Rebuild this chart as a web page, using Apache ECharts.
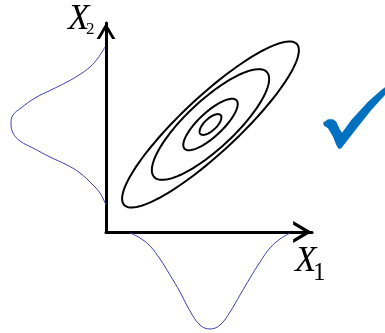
<!DOCTYPE html>
<html style="height: 100%">
<head>
    <meta charset="utf-8">
</head>
<body style="height: 100%; margin: 0; background: #fff">
<div id="container" style="width: 385px;height: 333px"></div>
<script src="https://cdn.jsdelivr.net/npm/echarts@6/dist/echarts.min.js"></script>
<script type="text/javascript">
    // units: 1 unit = 1 px, origin at the axes corner
    var x1Pos = [24, 34, 44, 54, 64, 74, 84, 94, 104, 114, 124, 134, 144, 154, 164, 174, 184];
    var x1Dens = [1, 6, 14, 27, 43, 60, 79, 93, 97, 93, 80, 63, 46, 30, 16, 7, 1];

    var x2Pos = [185, 174, 165, 157, 150, 142, 134, 124, 117, 109, 99, 91, 84, 75, 67, 59, 47, 39, 27];
    var x2Dens = [1, 8, 16, 27, 39, 55, 71, 85, 93, 95, 93, 86, 73, 56, 39, 26, 13, 6, 0];

    var ellipseCenter = [104.5, 107.5];
    var ringMajor = [118, 77, 35.5, 13.8];
    var ringMinor = [28, 24, 12, 6];
    var ringAngle = 43;

    var bottomData = x1Pos.map(function (x, i) { return [x, -x1Dens[i]]; });
    var leftData = x2Pos.map(function (y, i) { return [-x2Dens[i], y]; });
    var ringData = ringMajor.map(function (a, i) {
        return [ellipseCenter[0], ellipseCenter[1], a, ringMinor[i], ringAngle];
    });

    var chevron = 'path://M10,0 L20,17 L16.5,17 L10,5.9 L3.5,17 L0,17 Z';
    var hidden = {show: false};

    var dom = document.getElementById("container");
    var myChart = echarts.init(dom, null, {renderer: 'canvas'});

    function renderRing(params, api) {
        var cx = api.value(0), cy = api.value(1);
        var a = api.value(2), b = api.value(3);
        var th = api.value(4) * Math.PI / 180;
        var pts = [];
        for (var k = 0; k < 120; k++) {
            var t = k / 120 * Math.PI * 2;
            var px = cx + a * Math.cos(th) * Math.cos(t) - b * Math.sin(th) * Math.sin(t);
            var py = cy + a * Math.sin(th) * Math.cos(t) + b * Math.cos(th) * Math.sin(t);
            pts.push(api.coord([px, py]));
        }
        return {
            type: 'polygon',
            shape: {points: pts},
            style: {fill: 'none', stroke: '#000', lineWidth: 2}
        };
    }

    var option = {
        animation: false,
        grid: [
            {left: 106, top: 23, width: 206, height: 209},
            // same scale, widened to the left for the X2 marginal
            {left: 0, top: 23, width: 312, height: 209}
        ],
        xAxis: [{
            type: 'value', min: 0, max: 206,
            splitLine: hidden, axisTick: hidden, axisLabel: hidden,
            axisLine: {
                onZero: false,
                lineStyle: {color: '#000', width: 3},
                symbol: ['none', chevron],
                symbolSize: [22, 19],
                symbolOffset: [0, -9.5]
            }
        }, {
            type: 'value', gridIndex: 1, min: -106, max: 206, show: false
        }],
        yAxis: [{
            type: 'value', min: 0, max: 209,
            splitLine: hidden, axisTick: hidden, axisLabel: hidden,
            axisLine: {
                onZero: false,
                lineStyle: {color: '#000', width: 3},
                symbol: ['none', chevron],
                symbolSize: [21, 16],
                symbolOffset: [0, -8]
            }
        }, {
            type: 'value', gridIndex: 1, min: 0, max: 209, show: false
        }],
        graphic: [
            {type: 'text', x: 68, y: 20, style: {text: 'X', font: 'italic 35px "Liberation Serif"', fill: '#000', verticalAlign: 'middle'}},
            {type: 'text', x: 86, y: 30, style: {text: '2', font: '17px "Liberation Serif"', fill: '#000', verticalAlign: 'middle'}},
            {type: 'text', x: 295, y: 261.5, style: {text: 'X', font: 'italic 35px "Liberation Serif"', fill: '#000', verticalAlign: 'middle'}},
            {type: 'text', x: 313, y: 273.5, style: {text: '1', font: '25px "Liberation Serif"', fill: '#000', verticalAlign: 'middle'}},
            {
                type: 'polygon',
                shape: {points: [[323, 122.7], [328, 119.3], [333, 119.3], [336.3, 121.7], [339.7, 129.3],
                    [342, 132.7], [351.3, 120], [368, 101.7], [381.3, 90], [392, 82], [392, 91],
                    [385, 95], [371.3, 110], [358, 126.7], [346.3, 141.7], [341.3, 148.3], [338.7, 149],
                    [336.3, 145], [333, 136.7], [328, 128.3], [324, 125.7]]},
                style: {fill: '#0070C0'}
            }
        ],
        series: [
            {
                type: 'custom',
                renderItem: renderRing,
                data: ringData,
                clip: false
            },
            {
                type: 'line', data: bottomData, smooth: 0.4, showSymbol: false, clip: false,
                lineStyle: {color: '#3f3fae', width: 1}
            },
            {
                type: 'line', xAxisIndex: 1, yAxisIndex: 1, data: leftData, smooth: 0.4,
                showSymbol: false, clip: false,
                lineStyle: {color: '#3f3fae', width: 1}
            }
        ]
    };

    myChart.setOption(option);
</script>
</body>
</html>
